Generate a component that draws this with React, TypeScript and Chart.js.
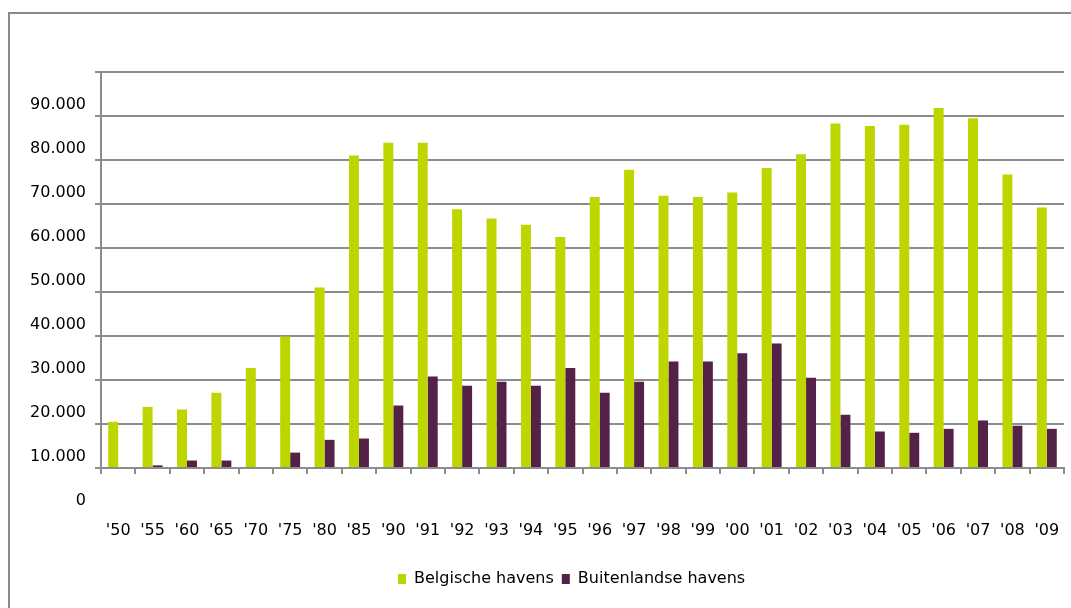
import React, { useEffect, useRef } from 'react';
import { Chart, registerables } from 'chart.js';

Chart.register(...registerables);

const categories = ["'50", "'55", "'60", "'65", "'70", "'75", "'80", "'85", "'90", "'91", "'92", "'93", "'94", "'95", "'96", "'97", "'98", "'99", "'00", "'01", "'02", "'03", "'04", "'05", "'06", "'07", "'08", "'09"];

const belgischeHavens = [20500, 23900, 23300, 27100, 32700, 39900, 51000, 81000, 83900, 83900, 68800, 66700, 65300, 62500, 71600, 77800, 71900, 71600, 72600, 78200, 81300, 88300, 87700, 88000, 91800, 89500, 76700, 69200];

const buitenlandseHavens = [null, 10600, 11700, 11700, null, 13500, 16400, 16700, 24200, 30800, 28700, 29600, 28700, 32700, 27100, 29600, 34200, 34200, 36100, 38300, 30500, 22100, 18300, 18000, 18900, 20800, 19600, 18900];

const yTickValues = [0, 10000, 20000, 30000, 40000, 50000, 60000, 70000, 80000, 90000, 100000];
const hiddenTickValues = [100000];

const seriesNames = ['Belgische havens', 'Buitenlandse havens'];

const GREEN = '#bdd600';
const PURPLE = '#542148';
const GRID = '#8c8c8c';
const FONT = '"DejaVu Sans", Verdana, sans-serif';
const LEGEND_CENTER_X = 571.6;

const formatNL = (v: number) => String(v).replace(/\B(?=(\d{3})+(?!\d))/g, '.');

const legendShift = {
  id: 'legendShift',
  afterLayout(chart: any) {
    const lg = chart.legend;
    if (!lg) return;
    const w = lg.right - lg.left;
    lg.left = LEGEND_CENTER_X - w / 2;
    lg.right = lg.left + w;
  },
};

export default function App() {
  const ref = useRef<HTMLCanvasElement | null>(null);

  useEffect(() => {
    if (!ref.current) return;
    Chart.defaults.font.family = FONT;
    Chart.defaults.font.size = 16;
    Chart.defaults.color = '#000';
    const chart = new Chart(ref.current, {
      type: 'bar',
      data: {
        labels: categories,
        datasets: [
          {
            label: seriesNames[0],
            data: belgischeHavens,
            backgroundColor: GREEN,
            borderWidth: 0,
            base: 10000,
            categoryPercentage: 0.58,
            barPercentage: 1,
          } as any,
          {
            label: seriesNames[1],
            data: buitenlandseHavens,
            backgroundColor: PURPLE,
            borderWidth: 0,
            base: 10000,
            categoryPercentage: 0.58,
            barPercentage: 1,
          } as any,
        ],
      },
      options: {
        animation: false,
        responsive: false,
        maintainAspectRatio: false,
        layout: { padding: { left: 20, right: 7, top: 72, bottom: 11 } },
        plugins: {
          title: { display: false },
          tooltip: { enabled: false },
          legend: {
            position: 'bottom',
            labels: {
              boxWidth: 8,
              boxHeight: 10,
              padding: 8,
              color: '#000',
              font: { family: FONT, size: 16 },
            },
          },
        },
        scales: {
          x: {
            offset: true,
            grid: {
              offset: true,
              drawOnChartArea: false,
              drawTicks: true,
              tickLength: 6,
              color: GRID,
              lineWidth: 2,
            },
            border: { display: true, color: GRID, width: 2 },
            ticks: {
              autoSkip: false,
              maxRotation: 0,
              padding: 47,
              color: '#000',
              font: { family: FONT, size: 16 },
            },
            afterFit: (scale: any) => {
              scale.height = 95;
              scale.paddingLeft = 0;
              scale.paddingRight = 0;
            },
          },
          y: {
            min: 10000,
            max: 100000,
            beginAtZero: false,
            grid: {
              color: (ctx: any) => (ctx.tick && ctx.tick.value === 0 ? 'rgba(0,0,0,0)' : GRID),
              lineWidth: 2,
              drawTicks: true,
              tickLength: 6,
            },
            border: { display: true, color: GRID, width: 2 },
            ticks: {
              autoSkip: false,
              padding: 9,
              labelOffset: -11,
              color: '#000',
              font: { family: FONT, size: 16 },
              callback: (value: any) => {
                const v = Number(value);
                if (hiddenTickValues.includes(v)) return '';
                return v === 0 ? '0' : formatNL(v);
              },
            },
            afterBuildTicks: (scale: any) => {
              scale.ticks = yTickValues.map((v) => ({ value: v }));
            },
            afterFit: (scale: any) => {
              scale.width = 81;
              scale.paddingTop = 0;
              scale.paddingBottom = 0;
            },
          },
        },
      },
      plugins: [legendShift],
    } as any);
    return () => chart.destroy();
  }, []);

  return (
    <div style={{ position: 'fixed', left: 0, top: 0, width: 1071, height: 608, overflow: 'hidden', background: '#fff' }}>
      <div
        style={{
          position: 'absolute',
          left: 8,
          top: 12,
          width: 1200,
          height: 800,
          border: '2px solid #8a8a8a',
          boxSizing: 'border-box',
        }}
      />
      <canvas
        ref={ref}
        width={1071}
        height={608}
        style={{ position: 'absolute', left: 0, top: 0, width: 1071, height: 608, display: 'block' }}
      />
    </div>
  );
}
